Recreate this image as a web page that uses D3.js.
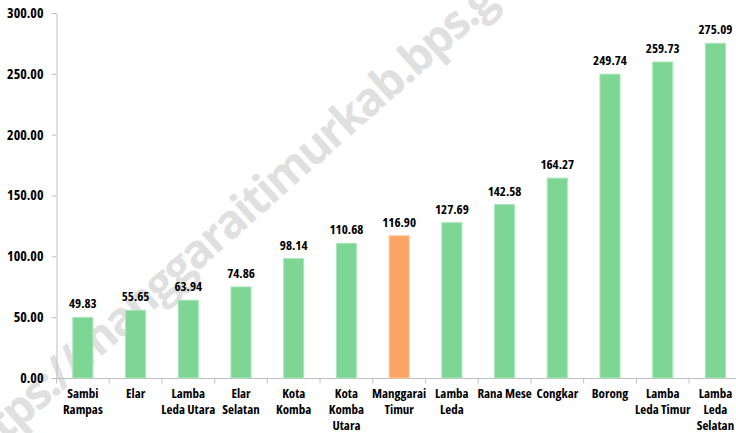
<!DOCTYPE html>
<html>
<head>
<meta charset="utf-8">
<script src="https://cdn.jsdelivr.net/npm/d3@7"></script>
<style>
  html, body { margin: 0; padding: 0; background: #fff; }
  svg { display: block; }
  text { font-family: "Open Sans", sans-serif; font-stretch: 75%; font-weight: bold; }
</style>
</head>
<body>
<svg id="chart" width="736" height="433"></svg>
<script>
// ---- data ----
const categories = ["Sambi|Rampas", "Elar", "Lamba|Leda Utara", "Elar|Selatan", "Kota|Komba",
  "Kota|Komba|Utara", "Manggarai|Timur", "Lamba|Leda", "Rana Mese", "Congkar", "Borong",
  "Lamba|Leda Timur", "Lamba|Leda|Selatan"];
const values = [49.83, 55.65, 63.94, 74.86, 98.14, 110.68, 116.90, 127.69, 142.58, 164.27, 249.74, 259.73, 275.09];
const highlight = ["Manggarai|Timur"];
const yTicks = [0, 50, 100, 150, 200, 250, 300];
const watermark = "https://manggaraitimurkab.bps.go.id";

(function () {
// ---- layout ----
const svg = d3.select("#chart");
const mLeft = 56.5, mRight = 741.8, mTop = 13, mBottom = 378;

const x = d3.scaleBand().domain(categories).range([mLeft, mRight]).paddingInner(0.6).paddingOuter(0.3);
const y = d3.scaleLinear().domain([0, 300]).range([mBottom, mTop]);

// watermark (behind)
svg.append("text")
  .attr("transform", "translate(251,200) rotate(-41.5)")
  .attr("text-anchor", "middle")
  .attr("dominant-baseline", "central")
  .style("font-family", "'Open Sans', sans-serif")
  .style("font-stretch", "100%")
  .style("font-size", "46px")
  .style("letter-spacing", "-2px")
  .style("font-weight", "bold")
  .attr("fill", "#e0e0e0")
  .text(watermark);

// y axis
const yAxis = svg.append("g")
  .attr("transform", `translate(${mLeft},0)`)
  .call(d3.axisLeft(y).tickValues(yTicks).tickFormat(d3.format(".2f")).tickSize(5).tickPadding(8).tickSizeOuter(0));
yAxis.select(".domain").attr("stroke", "#bfbfbf");
yAxis.selectAll(".tick line").attr("stroke", "#bfbfbf");
yAxis.selectAll(".tick text").attr("fill", "#000").style("font-size", "14px");

// x axis line and boundary ticks
const step = x.step();
const x0 = x(categories[0]) - step * x.paddingOuter();
svg.append("line").attr("x1", mLeft).attr("x2", 736).attr("y1", y(0) + 0.5).attr("y2", y(0) + 0.5)
  .attr("stroke", "#bfbfbf");
svg.append("g").selectAll("line").data(d3.range(categories.length + 1)).join("line")
  .attr("x1", i => x0 + i * step).attr("x2", i => x0 + i * step)
  .attr("y1", y(0)).attr("y2", y(0) + 5.5)
  .attr("stroke", "#bfbfbf");

// bars
const data = categories.map((c, i) => ({ c, v: values[i] }));
svg.append("g").selectAll("rect").data(data).join("rect")
  .attr("x", d => x(d.c) + 0.5)
  .attr("y", d => y(d.v))
  .attr("width", x.bandwidth() - 1)
  .attr("height", d => y(0) - y(d.v))
  .attr("fill", d => highlight.includes(d.c) ? "#fca665" : "#7dd694")
  .attr("stroke", d => highlight.includes(d.c) ? "#fdc89e" : "#ace6bb")
  .attr("stroke-width", 1);

// value labels
svg.append("g").selectAll("text").data(data).join("text")
  .attr("x", d => x(d.c) + x.bandwidth() / 2)
  .attr("y", d => y(d.v) - 9)
  .attr("text-anchor", "middle")
  .style("font-size", "13px")
  .attr("fill", "#000")
  .text(d => d3.format(".2f")(d.v));

// category labels
const cl = svg.append("g").selectAll("text").data(data).join("text")
  .attr("text-anchor", "middle")
  .style("font-size", "13px")
  .attr("fill", "#000");
cl.each(function(d) {
  const t = d3.select(this);
  d.c.split("|").forEach((line, i) => {
    t.append("tspan")
      .attr("x", x(d.c) + x.bandwidth() / 2)
      .attr("y", 398 + i * 16)
      .text(line);
  });
});
})();
</script>
</body>
</html>
